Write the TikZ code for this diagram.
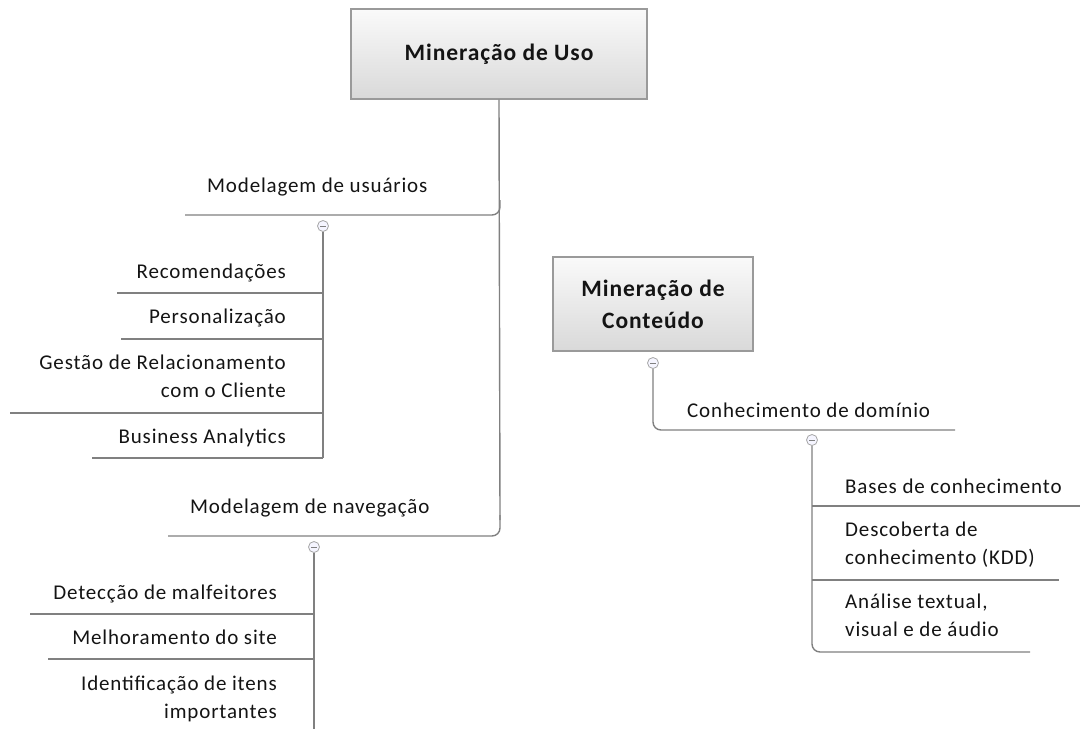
\documentclass[tikz,border=0pt]{standalone}
\usepackage{fontspec}
\setmainfont{Carlito}[LetterSpace=4]
\definecolor{linegray}{HTML}{808080}
\definecolor{boxborder}{HTML}{9A9A9A}
\definecolor{txt}{HTML}{141414}
\begin{document}
\begin{tikzpicture}[x=1pt,y=-1pt,
  ln/.style={draw=linegray, line width=1.4pt},
  lbl/.style={font=\fontsize{21}{28}\selectfont, inner sep=0pt, text=txt},
  lblR/.style={lbl, align=right, anchor=base east},
  lblL/.style={lbl, align=left, anchor=base west},
  topic/.style={draw=boxborder, line width=1.2pt, top color=black!2, bottom color=black!15,
    font=\fontsize{23.5}{32}\selectfont\bfseries, text=txt, align=center, inner sep=0pt},
  toggle/.style={circle, draw=gray!70, line width=0.8pt, fill=blue!4, minimum size=11pt, inner sep=0pt,
    path picture={\draw[gray, line width=0.8pt] ([xshift=-2.8pt]path picture bounding box.center) -- ([xshift=2.8pt]path picture bounding box.center);}}
]
\useasboundingbox (0,0) rectangle (1081,729);

% ---------- main topic ----------
\node[topic, minimum width=296pt, minimum height=90pt] (uso) at (499,54) {Mineração de Uso};

% ---------- Modelagem de usuarios ----------
\node[lblL] (mu) at (207,192) {Modelagem de usuários};
\coordinate (muL) at (185,215);
\coordinate (muR) at (500,215);
\node[toggle] (c1) at (323,226) {};

\node[lblR] (rec) at (286,278) {Recomendações};
\node[lblR] (per) at (286,323) {Personalização};
\node[lblR] (ges) at (286,397) {Gestão de Relacionamento\hspace{5pt}\\com o Cliente};
\node[lblR] (bus) at (286,443) {Business Analytics};
\coordinate (recL) at (117,293); \coordinate (recR) at (323,293);
\coordinate (perL) at (121,339); \coordinate (perR) at (323,339);
\coordinate (gesL) at (10,413);  \coordinate (gesR) at (323,413);
\coordinate (busL) at (92,458);  \coordinate (busR) at (323,458);

% ---------- Modelagem de navegacao ----------
\node[lblL] (mn) at (190,513) {Modelagem de navegação};
\coordinate (mnL) at (168,536);
\coordinate (mnR) at (500,536);
\node[toggle] (c2) at (314,547) {};

\node[lblR] (det) at (277,599) {Detecção de malfeitores};
\node[lblR] (mel) at (277,644) {Melhoramento do site};
\node[lblR] (ide) at (277,718) {Identificação de itens\hspace{5pt}\\importantes};
\coordinate (detL) at (30,614); \coordinate (detR) at (314,614);
\coordinate (melL) at (48,659); \coordinate (melR) at (314,659);
\coordinate (c2end) at (314,729);

% trunk
\draw[ln] (uso.south) -- (500,520);
\draw[ln, rounded corners=8pt] (500,200) -- (muR) -- (muL);
\draw[ln, rounded corners=8pt] (500,515) -- (mnR) -- (mnL);
\draw[ln] (c1.south) -- (busR);
\draw[ln] (c2.south) -- (c2end);
\draw[ln] (recL) -- (recR);
\draw[ln] (perL) -- (perR);
\draw[ln] (gesL) -- (gesR);
\draw[ln] (busL) -- (busR);
\draw[ln] (detL) -- (detR);
\draw[ln] (melL) -- (melR);

% ---------- Mineracao de Conteudo ----------
\node[topic, minimum width=200pt, minimum height=94pt] (cont) at (653,304) {Mineração de\\Conteúdo};
\node[toggle] (c3) at (653,363) {};
\node[lblL] (con) at (687,417) {Conhecimento de domínio};
\coordinate (conR) at (955,430);
\draw[ln, rounded corners=8pt] (c3.south) -- (653,430) -- (conR);
\node[toggle] (c4) at (812,440) {};

\node[lblL] (bas) at (845,493) {Bases de conhecimento};
\node[lblL] (des) at (845,564) {Descoberta de\\conhecimento (KDD)};
\node[lblL] (ana) at (845,636) {Análise textual,\\visual e de áudio};
\coordinate (basL) at (812,506); \coordinate (basR) at (1080,506);
\coordinate (desL) at (812,580); \coordinate (desR) at (1059,580);
\coordinate (anaR) at (1030,652);
\draw[ln, rounded corners=8pt] (c4.south) -- (812,652) -- (anaR);
\draw[ln] (basL) -- (basR);
\draw[ln] (desL) -- (desR);
\end{tikzpicture}
\end{document}
